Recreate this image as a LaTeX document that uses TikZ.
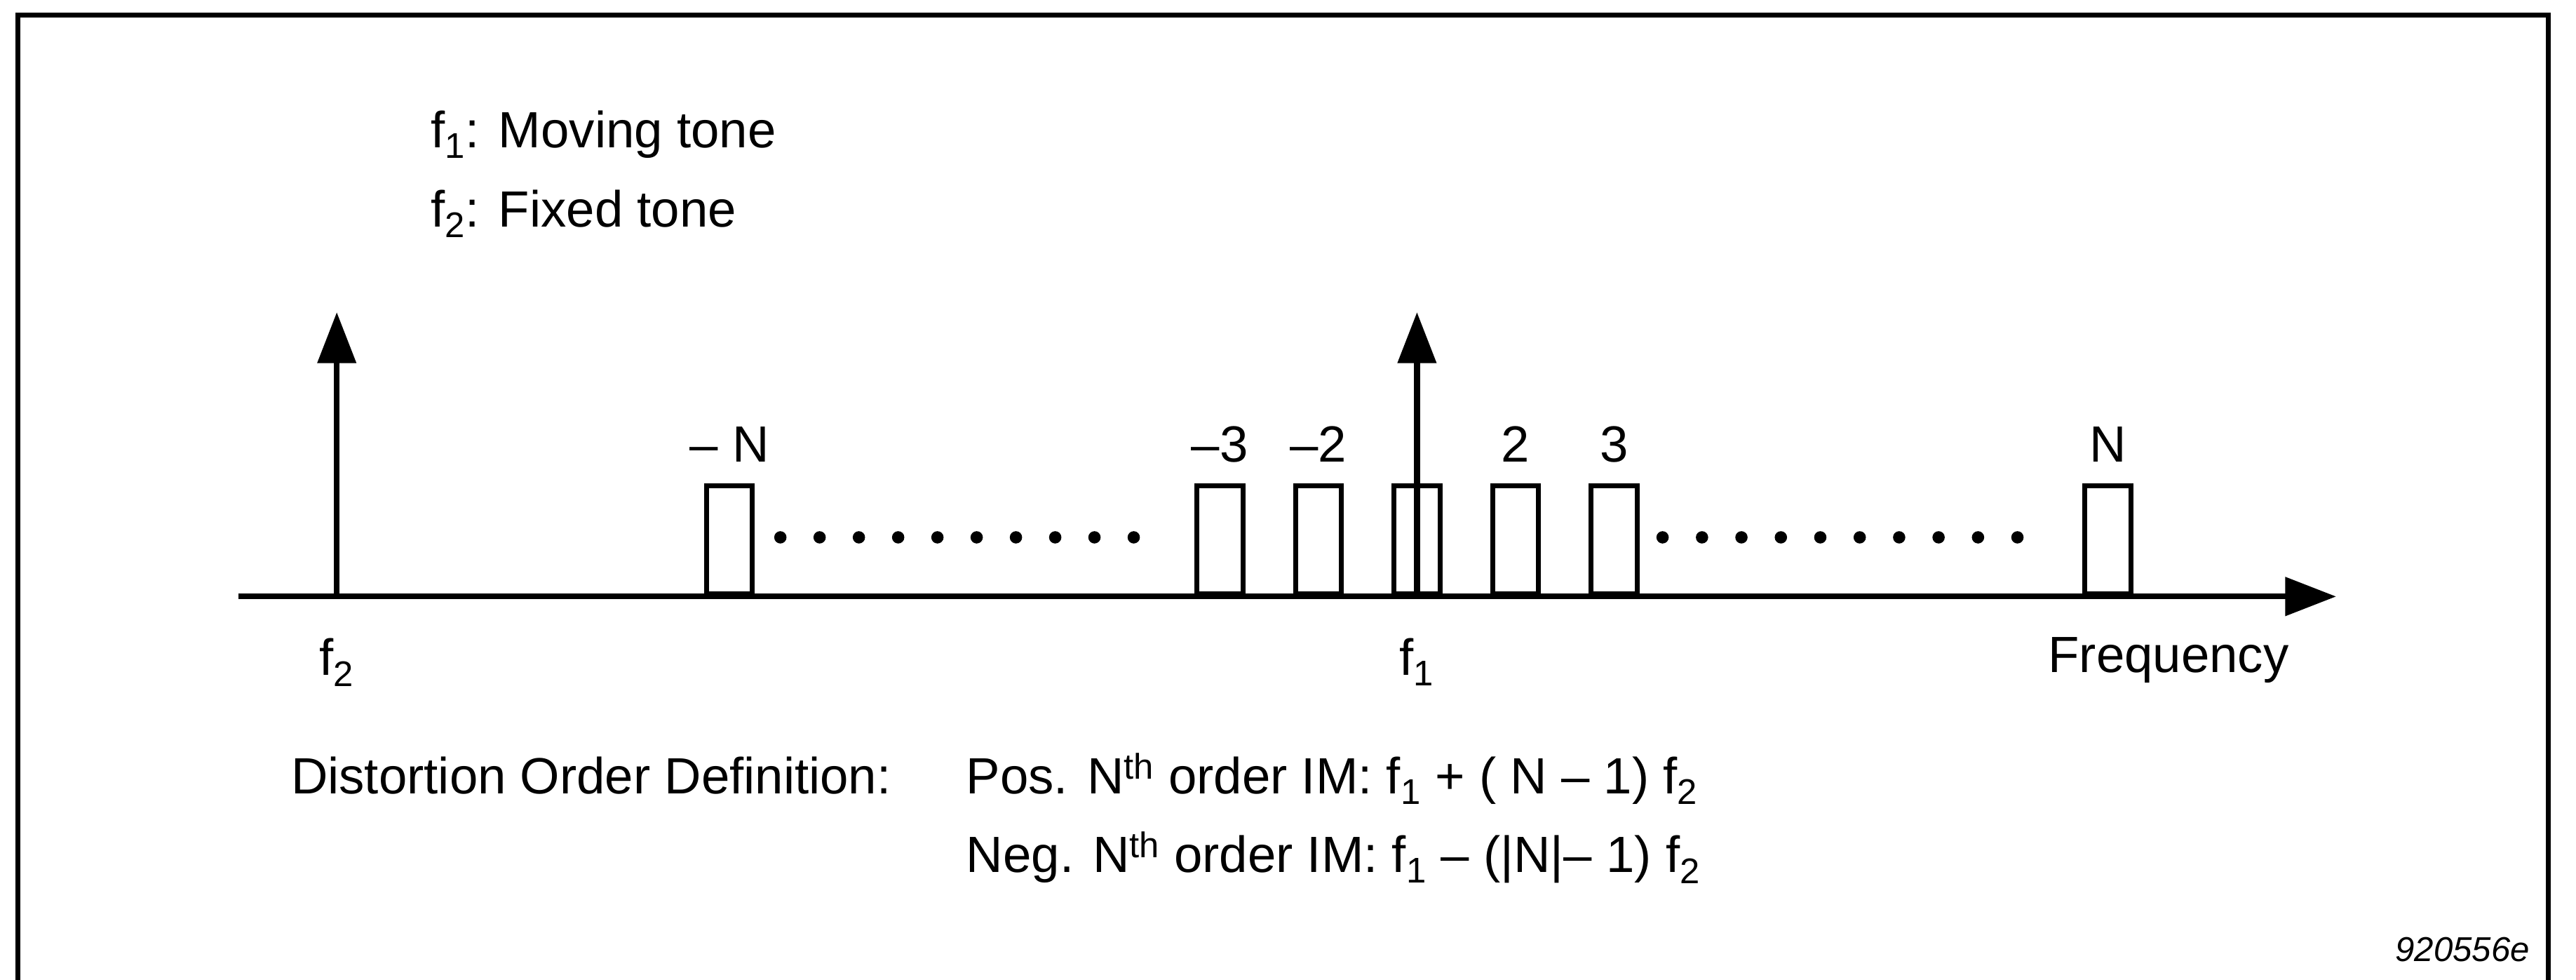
\documentclass[tikz,border=0pt]{standalone}
\usepackage{fontspec}
\setmainfont{Liberation Sans}
\usetikzlibrary{arrows.meta}
\begin{document}
\begin{tikzpicture}[x=1pt,y=-1pt,
  txt/.style={font=\fontsize{31}{37}\selectfont, inner sep=0pt},
  imbox/.style={draw, line width=3pt, minimum width=28pt, minimum height=66pt, inner sep=0pt, anchor=south},
  tone/.style={line width=3.5pt, -{Triangle[length=31pt,width=23pt]}},
  axisline/.style={line width=3.5pt, -{Triangle[length=31pt,width=23pt]}},
  framel/.style={line width=3pt},
  dotmark/.style={circle, fill, inner sep=0pt, minimum size=7.5pt}
]
\useasboundingbox (0,0) rectangle (1568,596);
% frame
\coordinate (fbl) at (11,600);
\coordinate (ftl) at (11,9);
\coordinate (ftr) at (1551,9);
\coordinate (fbr) at (1551,600);
\draw[framel] (fbl) -- (ftl) -- (ftr) -- (fbr);
% legend
\node[txt, anchor=base west] (leg1) at (262,90) {f\textsubscript{1}: Moving tone};
\node[txt, anchor=base west] (leg2) at (262,138) {f\textsubscript{2}: Fixed tone};
% IM boxes
\foreach \n/\x in {mN/444, m3/742.5, m2/802.5, c0/862.5, p2/922.5, p3/982.5, pN/1283}
  \node[imbox] (b\n) at (\x,363) {};
% box labels
\node[txt, anchor=base] (lmN) at (444,281) {– N};
\node[txt, anchor=base] (lm3) at (742.5,281) {–3};
\node[txt, anchor=base] (lm2) at (802.5,281) {–2};
\node[txt, anchor=base] (lp2) at (922.5,281) {2};
\node[txt, anchor=base] (lp3) at (982.5,281) {3};
\node[txt, anchor=base] (lpN) at (1283,281) {N};
% dots
\foreach \i in {0,...,9} {
  \node[dotmark] (dl\i) at (475+\i*23.9,327) {};
  \node[dotmark] (dr\i) at (1012+\i*24,327) {};
}
% axis
\coordinate (ax0) at (145,363);
\coordinate (ax1) at (1422,363);
\draw[axisline] (ax0) -- (ax1);
% tones
\coordinate (f2b) at (205,363);
\coordinate (f2t) at (205,190);
\coordinate (f1b) at (862.5,363);
\coordinate (f1t) at (862.5,190);
\draw[tone] (f2b) -- (f2t);
\draw[tone] (f1b) -- (f1t);
% axis labels
\node[txt, anchor=base] (lf2) at (205,411) {f\textsubscript{2}};
\node[txt, anchor=base] (lf1) at (862.5,411) {f\textsubscript{1}};
\node[txt, anchor=base] (lfreq) at (1320,409) {Frequency};
% definitions
\node[txt, anchor=base west] (dod) at (177,483) {Distortion Order Definition:};
\node[txt, anchor=base west] (pos) at (588,483) {Pos. N\textsuperscript{th} order IM: f\textsubscript{1} + ( N – 1) f\textsubscript{2}};
\node[txt, anchor=base west] (neg) at (588,531) {Neg. N\textsuperscript{th} order IM: f\textsubscript{1} – (|N|– 1) f\textsubscript{2}};
% id
\node[font=\fontsize{21}{25}\selectfont\itshape, inner sep=0pt, anchor=base east] (fid) at (1540,585) {920556e};
\end{tikzpicture}
\end{document}
